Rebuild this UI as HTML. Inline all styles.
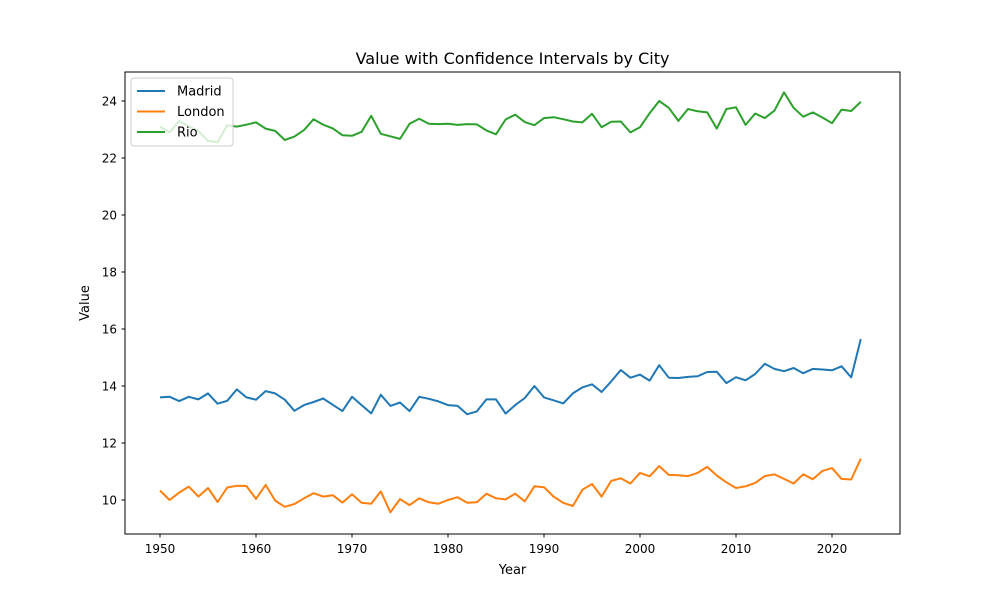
<!DOCTYPE html>
<html><head><meta charset="utf-8"><style>
body{margin:0;background:#fff;font-family:"Liberation Sans","DejaVu Sans",sans-serif}
svg text{font-family:"DejaVu Sans","Liberation Sans",sans-serif;fill:#000}
</style></head><body>
<svg id="chart" width="1000" height="600" xmlns="http://www.w3.org/2000/svg">
<rect width="1000" height="600" fill="#fff"/>
<text x="512.5" y="64" font-size="16" text-anchor="middle">Value with Confidence Intervals by City</text>
<g id="axes"></g>
<g id="series"></g>
<rect x="125" y="72" width="775" height="462" fill="none" stroke="#000" stroke-width="1"/>
<text x="512.5" y="574" font-size="13" text-anchor="middle">Year</text>
<text x="0" y="0" font-size="13" text-anchor="middle" transform="translate(89,303) rotate(-90)">Value</text>
<g id="legend">
<rect x="131" y="78" width="102" height="68" rx="3" fill="#fff" fill-opacity="0.8" stroke="#ccc"/>
</g>
</svg>
<script>
const years = [];
for (let y = 1950; y <= 2023; y++) years.push(y);
const madrid = [13.6,13.62,13.47,13.62,13.53,13.74,13.38,13.48,13.88,13.6,13.52,13.82,13.74,13.52,13.13,13.33,13.44,13.56,13.34,13.12,13.62,13.33,13.04,13.69,13.3,13.42,13.12,13.62,13.55,13.46,13.33,13.3,13.01,13.11,13.53,13.53,13.03,13.33,13.58,14.0,13.6,13.5,13.39,13.74,13.95,14.06,13.79,14.16,14.56,14.29,14.4,14.19,14.73,14.29,14.28,14.32,14.34,14.49,14.5,14.1,14.31,14.2,14.42,14.78,14.6,14.52,14.63,14.45,14.6,14.58,14.55,14.69,14.3,15.65];
const london = [10.33,10.0,10.26,10.47,10.12,10.42,9.93,10.44,10.5,10.49,10.04,10.53,9.98,9.76,9.86,10.06,10.24,10.12,10.17,9.91,10.2,9.9,9.87,10.3,9.57,10.03,9.82,10.06,9.92,9.87,10.0,10.1,9.9,9.92,10.22,10.06,10.02,10.22,9.95,10.48,10.45,10.12,9.9,9.79,10.36,10.56,10.12,10.67,10.76,10.58,10.95,10.83,11.19,10.88,10.87,10.84,10.95,11.16,10.86,10.62,10.42,10.48,10.6,10.84,10.9,10.74,10.58,10.9,10.73,11.02,11.12,10.74,10.72,11.45];
const rio = [23.1,22.9,23.3,23.1,22.95,22.6,22.55,23.15,23.1,23.17,23.25,23.03,22.95,22.63,22.75,22.98,23.36,23.17,23.04,22.8,22.78,22.92,23.48,22.85,22.76,22.67,23.2,23.38,23.2,23.19,23.2,23.16,23.19,23.18,22.97,22.83,23.35,23.52,23.26,23.15,23.4,23.43,23.36,23.28,23.25,23.55,23.08,23.27,23.28,22.9,23.08,23.57,24.0,23.76,23.3,23.72,23.64,23.6,23.03,23.72,23.78,23.16,23.56,23.4,23.66,24.3,23.76,23.45,23.6,23.42,23.22,23.7,23.65,23.97];
const seriesNames = ["Madrid","London","Rio"];
const seriesColors = ["#1f77b4","#ff7f0e","#2ca02c"];
const xTicks = [1950,1960,1970,1980,1990,2000,2010,2020];
const yTicks = [10,12,14,16,18,20,22,24];

const NS = "http://www.w3.org/2000/svg";
const xs = v => 160 + (v - 1950) * 9.6;
const ys = v => 500 - (v - 10) * 28.5;
const axes = document.getElementById('axes');
function mk(tag, attrs, parent) { const e = document.createElementNS(NS, tag); for (const k in attrs) e.setAttribute(k, attrs[k]); parent.appendChild(e); return e; }
xTicks.forEach(t => {
  const x = xs(t);
  const l = mk('line', {x1:x, x2:x, y1:534, y2:537.5, stroke:'#000'}, axes);
  
  
  const tx = mk('text', {x:x, y:553, 'font-size':12, 'text-anchor':'middle'}, axes);
  tx.textContent = t;
  
  
});
yTicks.forEach(t => {
  const y = ys(t);
  const l = mk('line', {x1:121.5, x2:125, y1:y, y2:y, stroke:'#000'}, axes);
  
  
  const tx = mk('text', {x:117, y:y + 4.5, 'font-size':12, 'text-anchor':'end'}, axes);
  tx.textContent = t;
  
  
});
const sg = document.getElementById('series');
[madrid, london, rio].forEach((vals, i) => {
  const pts = vals.map((v, j) => xs(years[j]).toFixed(1) + ',' + ys(v).toFixed(1)).join(' ');
  const p = mk('polyline', {points:pts, fill:'none', stroke:seriesColors[i], 'stroke-width':2, 'stroke-linejoin':'round'}, sg);
  
  
});
const lg = document.getElementById('legend');
seriesNames.forEach((n, i) => {
  const y = 91 + i * 20.5;
  const l = mk('line', {x1:137, x2:165, y1:y, y2:y, stroke:seriesColors[i], 'stroke-width':2}, lg);
  
  
  const t = mk('text', {x:177, y:y + 4.5, 'font-size':13}, lg);
  t.textContent = n;
  
  
});
</script>
</body></html>
